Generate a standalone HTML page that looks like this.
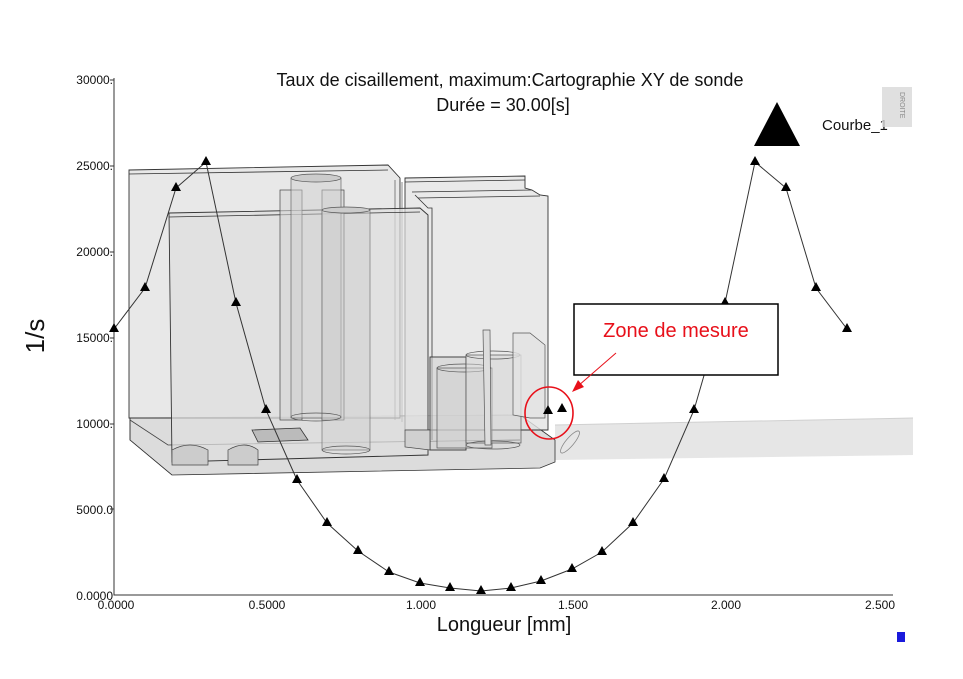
<!DOCTYPE html>
<html><head><meta charset="utf-8"><style>
html,body{margin:0;padding:0;background:#fff;}
svg{display:block;font-family:"Liberation Sans",Arial,sans-serif;}
</style></head><body>
<svg width="963" height="679" viewBox="0 0 963 679" xmlns="http://www.w3.org/2000/svg">
<rect width="963" height="679" fill="#fff"/>
<!-- pipe -->
<path d="M555 425 L913 418 L913 455 L555 460 Z" fill="#e6e6e6"/>
<path d="M555 425 L913 418" stroke="#d0d0d0" fill="none"/>
<!-- base plate -->
<path d="M130 418 L520 415 L555 440 L555 462 L540 468 L172 475 L130 440 Z" fill="#dcdcdc" stroke="#333" stroke-width="0.8"/>
<path d="M130 418 L130 440 L172 475" fill="none" stroke="#333" stroke-width="0.8"/>
<path d="M130 420 L168 445 L520 440" fill="none" stroke="#444" stroke-width="0.8"/>
<!-- big back box -->
<path d="M129 170 L388 165 L400 178 L400 418 L129 418 Z" fill="#e2e2e2" fill-opacity="0.8" stroke="#333" stroke-width="0.9"/>
<path d="M129 174 L388 170" stroke="#333" stroke-width="0.8"/>
<!-- right boxes -->
<path d="M405 178 L525 176 L525 188 L532 190 L540 195 L548 196 L548 430 L405 430 Z" fill="#e4e4e4" fill-opacity="0.8" stroke="#333" stroke-width="0.9"/>
<path d="M405 182 L525 180 M412 192 L532 190 M418 198 L540 196" stroke="#333" stroke-width="0.8" fill="none"/>
<path d="M415 195 L428 208 L432 208 L432 440" fill="none" stroke="#333" stroke-width="0.8"/>
<path d="M395 180 L395 420 M402 182 L402 422" stroke="#555" stroke-width="0.7"/>
<!-- front box -->
<path d="M169 213 L420 208 L428 215 L428 455 L172 462 Z" fill="#dedede" fill-opacity="0.7" stroke="#333" stroke-width="0.9"/>
<path d="M169 217 L420 212" stroke="#333" stroke-width="0.8"/>
<!-- tubes -->
<rect x="280" y="190" width="22" height="230" fill="#d6d6d6" fill-opacity="0.6" stroke="#444" stroke-width="0.7"/>
<rect x="322" y="190" width="22" height="230" fill="#d6d6d6" fill-opacity="0.6" stroke="#444" stroke-width="0.7"/>
<rect x="291" y="178" width="50" height="240" fill="#d0d0d0" fill-opacity="0.5" stroke="#555" stroke-width="0.6"/>
<ellipse cx="316" cy="178" rx="25" ry="4" fill="#ccc" stroke="#555" stroke-width="0.7"/>
<rect x="322" y="210" width="48" height="240" fill="#cfcfcf" fill-opacity="0.5" stroke="#666" stroke-width="0.6"/>
<ellipse cx="346" cy="210" rx="24" ry="3" fill="#ccc" stroke="#555" stroke-width="0.7"/>
<ellipse cx="316" cy="417" rx="25" ry="4" fill="none" stroke="#555" stroke-width="0.7"/>
<ellipse cx="346" cy="450" rx="24" ry="4" fill="none" stroke="#555" stroke-width="0.7"/>
<!-- small equipment right -->
<rect x="430" y="357" width="36" height="93" fill="#d2d2d2" fill-opacity="0.6" stroke="#333" stroke-width="0.9"/>
<rect x="437" y="368" width="55" height="80" fill="#d0d0d0" fill-opacity="0.5" stroke="#555" stroke-width="0.7"/>
<ellipse cx="464" cy="368" rx="27" ry="4" fill="none" stroke="#555" stroke-width="0.7"/>
<rect x="466" y="355" width="55" height="88" fill="#d4d4d4" fill-opacity="0.5" stroke="#555" stroke-width="0.7"/>
<ellipse cx="493" cy="355" rx="27" ry="4" fill="none" stroke="#555" stroke-width="0.7"/>
<ellipse cx="493" cy="445" rx="27" ry="4" fill="none" stroke="#555" stroke-width="0.7"/>
<path d="M483 330 L490 330 L491 445 L485 445 Z" fill="#ddd" stroke="#555" stroke-width="0.7"/>
<path d="M513 333 L530 333 L545 345 L545 418 L530 418 L513 415 Z" fill="#e2e2e2" fill-opacity="0.8" stroke="#555" stroke-width="0.7"/>
<path d="M405 430 L430 430 L430 450 L405 447 Z" fill="#d0d0d0" stroke="#444" stroke-width="0.7"/>
<!-- bottom features -->
<path d="M252 430 L300 428 L308 440 L258 442 Z" fill="#bbb" stroke="#333" stroke-width="0.8"/>
<path d="M172 450 Q190 440 208 450 L208 465 L172 465 Z" fill="#ccc" stroke="#444" stroke-width="0.7"/>
<path d="M228 450 Q245 440 258 450 L258 465 L228 465 Z" fill="#ccc" stroke="#444" stroke-width="0.7"/>
<ellipse cx="570" cy="442" rx="4" ry="14" fill="none" stroke="#888" stroke-width="0.8" transform="rotate(40 570 442)"/>
<!-- axes -->
<path d="M114 78 L114 595 L893 595" fill="none" stroke="#333" stroke-width="1"/>
<g font-size="12" fill="#111" text-anchor="end">
<text x="113" y="84">30000.</text><text x="113" y="170">25000.</text><text x="113" y="256">20000.</text>
<text x="113" y="342">15000.</text><text x="113" y="428">10000.</text><text x="113" y="514">5000.0</text><text x="113" y="600">0.0000</text>
</g>
<g stroke="#333"><path d="M110 80H114M110 166H114M110 252H114M110 338H114M110 424H114M110 509H114"/></g>
<g font-size="12" fill="#111" text-anchor="middle">
<text x="116" y="609">0.0000</text><text x="267" y="609">0.5000</text><text x="421" y="609">1.000</text>
<text x="573" y="609">1.500</text><text x="726" y="609">2.000</text><text x="880" y="609">2.500</text>
</g>
<text x="504" y="631" font-size="20" text-anchor="middle" fill="#111">Longueur [mm]</text>
<text x="44" y="336" font-size="26" text-anchor="middle" fill="#111" transform="rotate(-90 44 336)">1/s</text>
<text x="510" y="86" font-size="18" text-anchor="middle" fill="#111">Taux de cisaillement, maximum:Cartographie XY de sonde</text>
<text x="503" y="111" font-size="18" text-anchor="middle" fill="#111">Durée = 30.00[s]</text>
<!-- curve -->
<polyline fill="none" stroke="#333" stroke-width="1" points="114,329 145,288 176,188 206,162 236,303 266,410 297,480 327,523 358,551 389,572 420,583 450,588 481,591 511,588 541,581 572,569 602,552 633,523 664,479 694,410 725,303 755,162 786,188 816,288 847,329"/>
<g fill="#000">
<path id="t" d="M0 -6 L5 3 L-5 3 Z" transform="translate(114,329)"/>
<path d="M0 -6 L5 3 L-5 3 Z" transform="translate(145,288)"/>
<path d="M0 -6 L5 3 L-5 3 Z" transform="translate(176,188)"/>
<path d="M0 -6 L5 3 L-5 3 Z" transform="translate(206,162)"/>
<path d="M0 -6 L5 3 L-5 3 Z" transform="translate(236,303)"/>
<path d="M0 -6 L5 3 L-5 3 Z" transform="translate(266,410)"/>
<path d="M0 -6 L5 3 L-5 3 Z" transform="translate(297,480)"/>
<path d="M0 -6 L5 3 L-5 3 Z" transform="translate(327,523)"/>
<path d="M0 -6 L5 3 L-5 3 Z" transform="translate(358,551)"/>
<path d="M0 -6 L5 3 L-5 3 Z" transform="translate(389,572)"/>
<path d="M0 -6 L5 3 L-5 3 Z" transform="translate(420,583)"/>
<path d="M0 -6 L5 3 L-5 3 Z" transform="translate(450,588)"/>
<path d="M0 -6 L5 3 L-5 3 Z" transform="translate(481,591)"/>
<path d="M0 -6 L5 3 L-5 3 Z" transform="translate(511,588)"/>
<path d="M0 -6 L5 3 L-5 3 Z" transform="translate(541,581)"/>
<path d="M0 -6 L5 3 L-5 3 Z" transform="translate(572,569)"/>
<path d="M0 -6 L5 3 L-5 3 Z" transform="translate(602,552)"/>
<path d="M0 -6 L5 3 L-5 3 Z" transform="translate(633,523)"/>
<path d="M0 -6 L5 3 L-5 3 Z" transform="translate(664,479)"/>
<path d="M0 -6 L5 3 L-5 3 Z" transform="translate(694,410)"/>
<path d="M0 -6 L5 3 L-5 3 Z" transform="translate(725,303)"/>
<path d="M0 -6 L5 3 L-5 3 Z" transform="translate(755,162)"/>
<path d="M0 -6 L5 3 L-5 3 Z" transform="translate(786,188)"/>
<path d="M0 -6 L5 3 L-5 3 Z" transform="translate(816,288)"/>
<path d="M0 -6 L5 3 L-5 3 Z" transform="translate(847,329)"/>
<path d="M0 -6 L5 3 L-5 3 Z" transform="translate(548,411)"/>
<path d="M0 -6 L5 3 L-5 3 Z" transform="translate(562,409)"/>
<path d="M777 102 L800 146 L754 146 Z"/>
</g>
<text x="822" y="130" font-size="15" fill="#111">Courbe_1</text>
<rect x="882" y="87" width="30" height="40" fill="#d8d8d8" fill-opacity="0.8"/>
<text x="900" y="92" font-size="7" fill="#888" transform="rotate(90 900 92)">DROITE</text>
<!-- annotation -->
<rect x="574" y="304" width="204" height="71" fill="#fff" stroke="#000" stroke-width="1.5"/>
<text x="676" y="337" font-size="20" fill="#e8101a" text-anchor="middle">Zone de mesure</text>
<ellipse cx="549" cy="413" rx="24" ry="26" fill="none" stroke="#e8101a" stroke-width="1.6"/>
<line x1="616" y1="353" x2="578" y2="386" stroke="#e8101a" stroke-width="1"/>
<path d="M572 392 L578 380 L584 387 Z" fill="#e8101a"/>
<rect x="897" y="632" width="8" height="10" fill="#1a1adc"/>
</svg>
</body></html>
